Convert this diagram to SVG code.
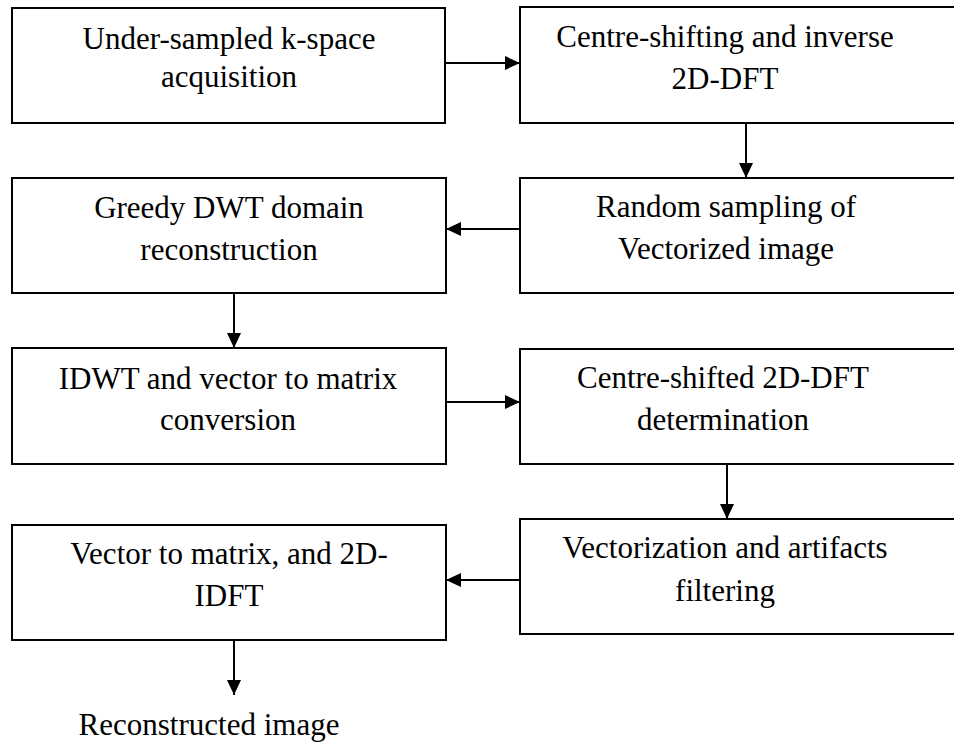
<svg xmlns="http://www.w3.org/2000/svg" width="954" height="742" viewBox="0 0 954 742">
  <style>
    .box { fill: #ffffff; stroke: #000000; stroke-width: 2; }
    .label { font-family: "Liberation Serif", "Times New Roman", serif; font-size: 31px; fill: #000000; text-anchor: middle; }
    .conn { stroke: #000000; stroke-width: 2; fill: none; marker-end: url(#head); }
  </style>
  <defs>
    <marker id="head" markerUnits="userSpaceOnUse" markerWidth="15" markerHeight="14" refX="15" refY="7" orient="auto">
      <path d="M0,0 L15,7 L0,14 Z" fill="#000000"/>
    </marker>
  </defs>
  <rect x="0" y="0" width="954" height="742" fill="#ffffff"/>

  <!-- process steps -->
  <g id="acquisition">
    <rect class="box" x="12" y="8" width="433" height="115"/>
    <text class="label" x="229" y="49">Under-sampled k-space</text>
    <text class="label" x="229" y="87">acquisition</text>
  </g>
  <g id="inverse-dft">
    <rect class="box" x="520" y="7" width="440" height="116"/>
    <text class="label" x="725" y="47">Centre-shifting and inverse</text>
    <text class="label" x="725" y="89">2D-DFT</text>
  </g>
  <g id="random-sampling">
    <rect class="box" x="520" y="178" width="440" height="115"/>
    <text class="label" x="726" y="217">Random sampling of</text>
    <text class="label" x="726" y="259">Vectorized image</text>
  </g>
  <g id="greedy-dwt">
    <rect class="box" x="12" y="178" width="434" height="115"/>
    <text class="label" x="229" y="218">Greedy DWT domain</text>
    <text class="label" x="229" y="260">reconstruction</text>
  </g>
  <g id="idwt">
    <rect class="box" x="12" y="348" width="434" height="116"/>
    <text class="label" x="228" y="389">IDWT and vector to matrix</text>
    <text class="label" x="228" y="430">conversion</text>
  </g>
  <g id="centre-shifted-dft">
    <rect class="box" x="520" y="349" width="440" height="115"/>
    <text class="label" x="723" y="388">Centre-shifted 2D-DFT</text>
    <text class="label" x="723" y="430">determination</text>
  </g>
  <g id="vectorization">
    <rect class="box" x="520" y="519" width="440" height="115"/>
    <text class="label" x="725" y="558">Vectorization and artifacts</text>
    <text class="label" x="725" y="601">filtering</text>
  </g>
  <g id="inverse-idft">
    <rect class="box" x="12" y="525" width="434" height="115"/>
    <text class="label" x="229" y="564">Vector to matrix, and 2D-</text>
    <text class="label" x="229" y="606">IDFT</text>
  </g>
  <g id="output">
    <text class="label" x="209" y="735">Reconstructed image</text>
  </g>

  <!-- connectors -->
  <g id="connectors">
    <line class="conn" x1="445" y1="63" x2="520" y2="63"/>
    <line class="conn" x1="746" y1="123" x2="746" y2="178"/>
    <line class="conn" x1="520" y1="229" x2="446" y2="229"/>
    <line class="conn" x1="234" y1="293" x2="234" y2="348"/>
    <line class="conn" x1="446" y1="402" x2="520" y2="402"/>
    <line class="conn" x1="727" y1="464" x2="727" y2="519"/>
    <line class="conn" x1="520" y1="580" x2="446" y2="580"/>
    <line class="conn" x1="234" y1="640" x2="234" y2="695"/>
  </g>
</svg>
